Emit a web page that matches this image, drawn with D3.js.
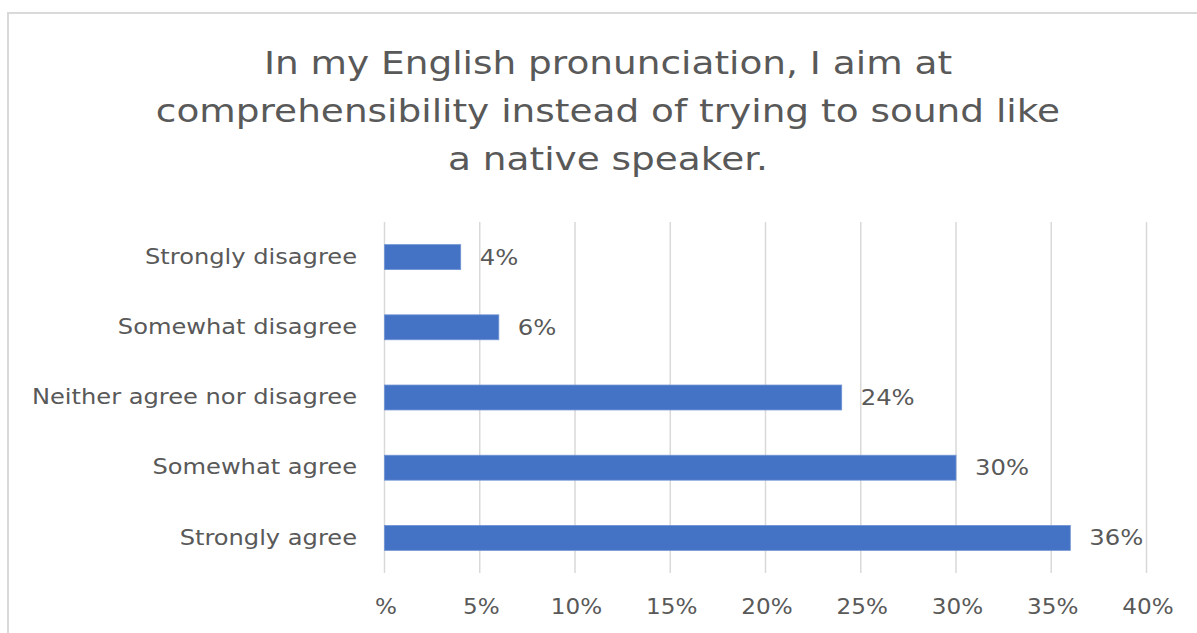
<!DOCTYPE html>
<html>
<head>
<meta charset="utf-8">
<script src="https://cdn.jsdelivr.net/npm/d3@7"></script>
<style>
  html, body { margin: 0; padding: 0; background: #fff; }
  svg { display: block; }
  text { font-family: "DejaVu Sans", "Open Sans", sans-serif; fill: #595959; }
</style>
</head>
<body>
<svg id="chart" width="1197" height="633"></svg>
<script>
// Survey responses (share of respondents)
const categories = [
  "Strongly disagree",
  "Somewhat disagree",
  "Neither agree nor disagree",
  "Somewhat agree",
  "Strongly agree"
];
const values = [0.04, 0.06, 0.24, 0.30, 0.36];
const tickValues = [0, 0.05, 0.10, 0.15, 0.20, 0.25, 0.30, 0.35, 0.40];
const tickLabels = ["%", "5%", "10%", "15%", "20%", "25%", "30%", "35%", "40%"];
const titleLines = [
  "In my English pronunciation, I aim at",
  "comprehensibility instead of trying to sound like",
  "a native speaker."
];

const FONT = "'DejaVu Sans', 'Open Sans', sans-serif";
const svg = d3.select("#chart");

// chart frame
svg.append("rect")
  .attr("x", 8).attr("y", 13)
  .attr("width", 1200).attr("height", 640)
  .attr("fill", "none")
  .attr("stroke", "#d9d9d9")
  .attr("stroke-width", 2);

// title (slightly widened lettering)
svg.append("g").selectAll("text")
  .data(titleLines)
  .join("text")
  .attr("transform", (d, i) => `translate(608,${74 + i * 48}) scale(1.17,1)`)
  .attr("text-anchor", "middle")
  .style("font-size", "32px")
  .text(d => d);

const x = d3.scaleLinear().domain([0, 0.40]).range([384.5, 1146.5]);
const y = d3.scaleBand().domain(categories).range([222, 573]).paddingInner(0.645).paddingOuter(0.3225);

// vertical gridlines
svg.append("g").selectAll("line")
  .data(tickValues)
  .join("line")
  .attr("x1", d => x(d)).attr("x2", d => x(d))
  .attr("y1", 222).attr("y2", 573)
  .attr("stroke", "#d9d9d9")
  .attr("stroke-width", 1.5);

// x-axis tick labels
const xAxis = d3.axisBottom(x)
  .tickValues(tickValues)
  .tickSize(0)
  .tickFormat((d, i) => tickLabels[i]);
const gx = svg.append("g")
  .attr("transform", "translate(1,596)")
  .call(xAxis);
gx.select(".domain").remove();
gx.selectAll("text")
  .attr("transform", "scale(1.1,1)")
  .style("font-size", "21px")
  .style("font-family", FONT)
  .attr("fill", "#595959");

// category labels
const yAxis = d3.axisLeft(y).tickSize(0).tickPadding(0);
const gy = svg.append("g")
  .attr("transform", "translate(357,0)")
  .call(yAxis);
gy.select(".domain").remove();
gy.selectAll("text")
  .attr("transform", "scale(1.15,1)")
  .style("font-size", "21px")
  .style("font-family", FONT)
  .attr("fill", "#595959");

// bars
svg.append("g").selectAll("rect")
  .data(values)
  .join("rect")
  .attr("x", x(0))
  .attr("y", (d, i) => y(categories[i]))
  .attr("width", d => x(d) - x(0))
  .attr("height", y.bandwidth())
  .attr("fill", "#4472C4")
  .attr("stroke", "#6f93d3")
  .attr("stroke-width", 0.8);

// value labels
svg.append("g").selectAll("text")
  .data(values)
  .join("text")
  .attr("transform", (d, i) =>
    `translate(${x(d) + 19},${y(categories[i]) + y.bandwidth() / 2}) scale(1.13,1)`)
  .attr("dy", "0.35em")
  .style("font-size", "21.5px")
  .text(d => Math.round(d * 100) + "%");
</script>
</body>
</html>
